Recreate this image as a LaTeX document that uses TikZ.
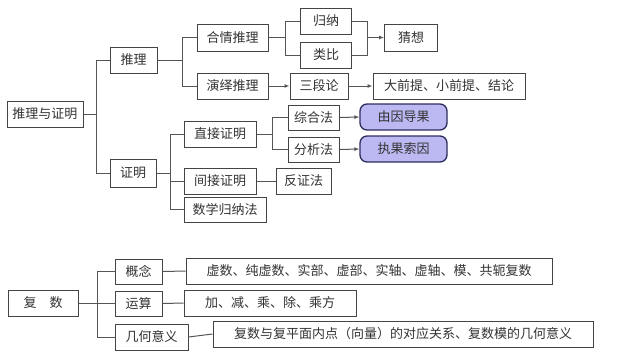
\documentclass[tikz,border=0pt]{standalone}
\usepackage{fontspec}
\setmainfont{Noto Sans CJK SC}
\usetikzlibrary{arrows.meta}
\definecolor{boxc}{HTML}{444444}
\definecolor{linec}{HTML}{555555}
\definecolor{txtc}{HTML}{333333}
\definecolor{purp}{HTML}{BCB8F2}
\definecolor{purpb}{HTML}{2E2E5E}
\tikzset{
  box/.style={draw=boxc, line width=1pt, fill=white, inner sep=0pt, text=txtc, font=\fontsize{13}{13}\selectfont},
  pbox/.style={box, draw=purpb, line width=1.3pt, fill=purp, rounded corners=7pt},
  conn/.style={draw=linec, line width=1pt},
  arr/.style={conn, -{Latex[length=5pt,width=4pt]}},
}
\begin{document}
\begin{tikzpicture}[x=1pt,y=-1pt]
\useasboundingbox[fill=white] (0,0) rectangle (640,357);
% nodes
\node[box, minimum width=76pt, minimum height=26pt] (top) at (45,114) {推理与证明};
\node[box, minimum width=47pt, minimum height=26pt] (tl) at (133.5,60) {推理};
\node[box, minimum width=71pt, minimum height=27pt] (hq) at (232.5,37.5) {合情推理};
\node[box, minimum width=71pt, minimum height=26pt] (yy) at (232.5,86) {演绎推理};
\node[box, minimum width=51pt, minimum height=26pt] (gn) at (326,21) {归纳};
\node[box, minimum width=51pt, minimum height=26pt] (lb) at (326,55) {类比};
\node[box, minimum width=53pt, minimum height=27pt] (cx) at (411,37.5) {猜想};
\node[box, minimum width=58pt, minimum height=26pt] (sdl) at (319,86) {三段论};
\node[box, minimum width=152pt, minimum height=26pt] (dqt) at (449,86) {大前提、小前提、结论};
\node[box, minimum width=46pt, minimum height=28pt] (zm) at (133,173) {证明};
\node[box, minimum width=72pt, minimum height=26pt] (zj) at (220,134) {直接证明};
\node[box, minimum width=72pt, minimum height=26pt] (jj) at (220,181) {间接证明};
\node[box, minimum width=82pt, minimum height=25pt] (sx) at (225,209.5) {数学归纳法};
\node[box, minimum width=51pt, minimum height=25pt] (zh) at (313.5,117.5) {综合法};
\node[box, minimum width=51pt, minimum height=25pt] (fx) at (313.5,149.5) {分析法};
\node[pbox, minimum width=87pt, minimum height=26pt] (yg) at (403.5,117) {由因导果};
\node[pbox, minimum width=87pt, minimum height=26pt] (zg) at (403.5,149) {执果索因};
\node[box, minimum width=55pt, minimum height=26pt] (fz) at (303.5,181) {反证法};
\node[box, minimum width=70pt, minimum height=26pt] (fs) at (43,303) {复\hspace{1em}数};
\node[box, minimum width=47pt, minimum height=25pt] (gnn) at (138.5,271.5) {概念};
\node[box, minimum width=47pt, minimum height=25pt] (ys) at (138.5,303.5) {运算};
\node[box, minimum width=73pt, minimum height=26pt] (jh) at (151.5,337) {几何意义};
\node[box, minimum width=366pt, minimum height=26pt] (xs) at (369,271) {虚数、纯虚数、实部、虚部、实轴、虚轴、模、共轭复数};
\node[box, minimum width=172pt, minimum height=26pt] (jf) at (270,303) {加、减、乘、除、乘方};
\node[box, minimum width=380pt, minimum height=26pt] (fp) at (403,334) {复数与复平面内点（向量）的对应关系、复数模的几何意义};
% trunk coordinates
\coordinate (tA) at (96,114);
\coordinate (tB) at (182,60);
\coordinate (tC) at (285,37.5);
\coordinate (tD) at (367,37.5);
\coordinate (tE) at (170,173);
\coordinate (tF) at (272,134);
\coordinate (tG) at (97,303);
% connectors
\draw[conn] (top.east) -- (tA);
\draw[conn] (tA) |- (tl.west);
\draw[conn] (tA) |- (zm.west);
\draw[conn] (tl.east) -- (tB);
\draw[conn] (tB) |- (hq.west);
\draw[conn] (tB) |- (yy.west);
\draw[conn] (hq.east) -- (tC);
\draw[conn] (tC) |- (gn.west);
\draw[conn] (tC) |- (lb.west);
\draw[conn] (gn.east) -| (tD);
\draw[conn] (lb.east) -| (tD);
\draw[arr] (tD) -- (cx.west);
\draw[arr] (yy.east) -- (sdl.west);
\draw[arr] (sdl.east) -- (dqt.west);
\draw[conn] (zm.east) -- (tE);
\draw[conn] (tE) |- (zj.west);
\draw[conn] (tE) |- (jj.west);
\draw[conn] (tE) |- (sx.west);
\draw[conn] (zj.east) -- (tF);
\draw[conn] (tF) |- (zh.west);
\draw[conn] (tF) |- (fx.west);
\draw[arr] (zh.east) -- (yg.west);
\draw[arr] (fx.east) -- (zg.west);
\draw[conn] (jj.east) -- (fz.west);
\draw[conn] (fs.east) -- (tG);
\draw[conn] (tG) |- (gnn.west);
\draw[conn] (tG) |- (ys.west);
\draw[conn] (tG) |- (jh.west);
\draw[conn] (gnn.east) -- (xs.west);
\draw[conn] (ys.east) -- (jf.west);
\draw[conn] (jh.east) -- (fp.west);
\end{tikzpicture}
\end{document}
